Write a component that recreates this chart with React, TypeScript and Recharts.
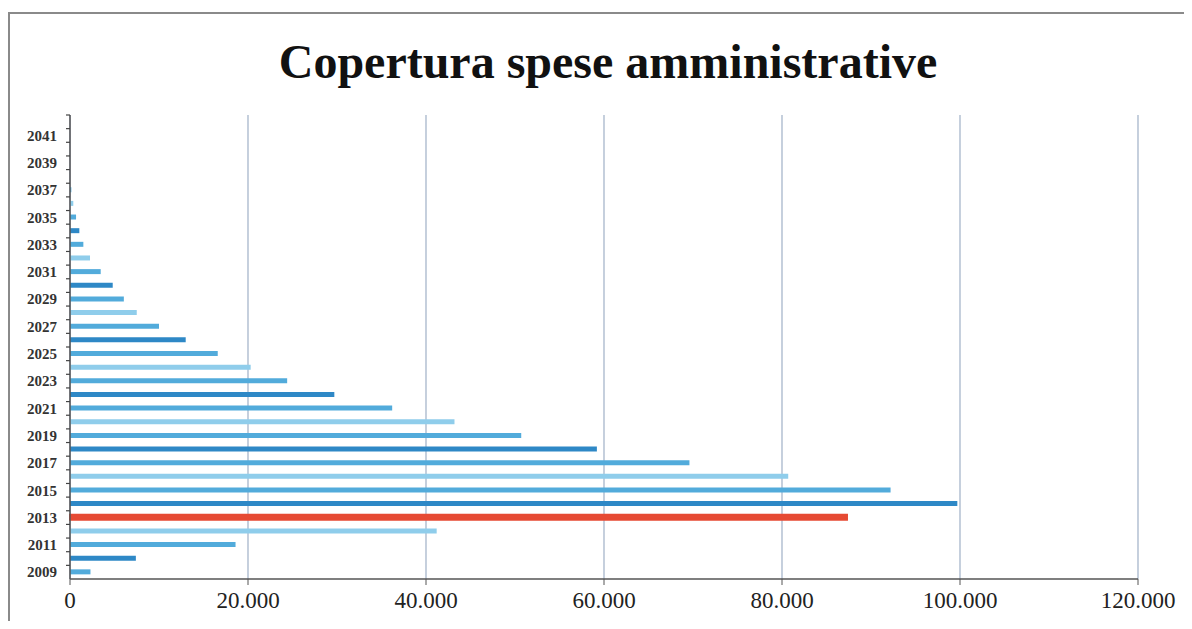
import React from 'react'
import { Bar, BarChart, CartesianGrid, Cell, XAxis, YAxis } from 'recharts'

const years = [
    2009, 2010, 2011, 2012, 2013, 2014, 2015, 2016, 2017, 2018, 2019, 2020,
    2021, 2022, 2023, 2024, 2025, 2026, 2027, 2028, 2029, 2030, 2031, 2032,
    2033, 2034, 2035, 2036, 2037, 2038, 2039, 2040, 2041, 2042,
]
const copertura = [
    2300, 7400, 18600, 41200, 87300, 99700, 92200, 80700, 69600, 59200, 50700, 43200,
    36200, 29700, 24400, 20300, 16600, 13000, 10000, 7500, 6050, 4800, 3450, 2250,
    1500, 1050, 680, 370, 150, 0, 0, 0, 0, 0,
]
const xTicks = [0, 20000, 40000, 60000, 80000, 100000, 120000]
const annoEvidenziato = 2013

const dati = years.map((anno, i) => ({ anno: String(anno), valore: copertura[i] }))

const W = 1192
const H = 629
const margin = { top: 115, right: 54, bottom: 0, left: 0 }
const xAxisH = 50
const plotH = H - margin.top - margin.bottom - xAxisH
const band = plotH / years.length

// light / mid / dark blue cycle like the scanned original
const blu = ['#52ABDB', '#2E88C6', '#52ABDB', '#8FCDEB']

const coloreBarra = (anno: number, i: number) =>
    anno === annoEvidenziato ? '#E64A33' : blu[i % 4]

const formatMigliaia = (v: number) => v.toLocaleString('it-IT').replace(/\s/g, '.')

const TickAnno = (props: any) => {
    const { x, y, payload } = props
    const anno = Number(payload.value)
    return (
        <g>
            <line x1={x - 4} x2={x} y1={y - band / 2} y2={y - band / 2} stroke='#444' strokeWidth={1.2} />
            {anno % 2 === 1 && (
                <text
                    x={x - 13}
                    y={y}
                    dy='0.35em'
                    textAnchor='end'
                    fontFamily='Liberation Serif'
                    fontWeight='bold'
                    fontSize={15}
                    fill='#333'
                >
                    {anno}
                </text>
            )}
        </g>
    )
}

const App: React.FC = () => {
    return (
        <div style={{ position: 'relative', width: W, height: H, margin: -8, background: '#fff', overflow: 'hidden' }}>
            <div
                style={{
                    position: 'absolute',
                    left: 8,
                    top: 12,
                    width: 1182,
                    height: 640,
                    border: '2px solid #8a8a8a',
                    boxSizing: 'border-box',
                }}
            />
            <div
                style={{
                    position: 'absolute',
                    left: 0,
                    width: 1216,
                    top: 34,
                    textAlign: 'center',
                    fontFamily: 'Liberation Serif',
                    fontWeight: 'bold',
                    fontSize: 48,
                    color: '#111',
                    lineHeight: '56px',
                }}
            >
                Copertura spese amministrative
            </div>
            <div style={{ position: 'absolute', left: 0, top: 0 }}>
                <BarChart width={W} height={H} data={dati} layout='vertical' margin={margin} barCategoryGap={0}>
                    <CartesianGrid horizontal={false} stroke='#9fb0c6' strokeWidth={1.2} />
                    <XAxis
                        type='number'
                        domain={[0, 120000]}
                        ticks={xTicks}
                        tickFormatter={formatMigliaia}
                        height={xAxisH}
                        axisLine={{ stroke: '#555', strokeWidth: 1.5 }}
                        tickLine={{ stroke: '#555' }}
                        tickSize={6}
                        tickMargin={7}
                        tick={{ fontFamily: 'Liberation Serif', fontSize: 23, fill: '#222' }}
                    />
                    <YAxis
                        type='category'
                        dataKey='anno'
                        reversed
                        width={70}
                        interval={0}
                        tickLine={false}
                        tickSize={0}
                        tickMargin={0}
                        axisLine={{ stroke: '#555', strokeWidth: 1.5 }}
                        tick={<TickAnno />}
                    />
                    <Bar dataKey='valore' barSize={5} isAnimationActive={false}>
                        {dati.map((d, i) => {
                            const c = coloreBarra(years[i], i)
                            return (
                                <Cell
                                    key={d.anno}
                                    fill={c}
                                    stroke={years[i] === annoEvidenziato ? c : 'none'}
                                    strokeWidth={2}
                                />
                            )
                        })}
                    </Bar>
                </BarChart>
            </div>
        </div>
    )
}

export default App
